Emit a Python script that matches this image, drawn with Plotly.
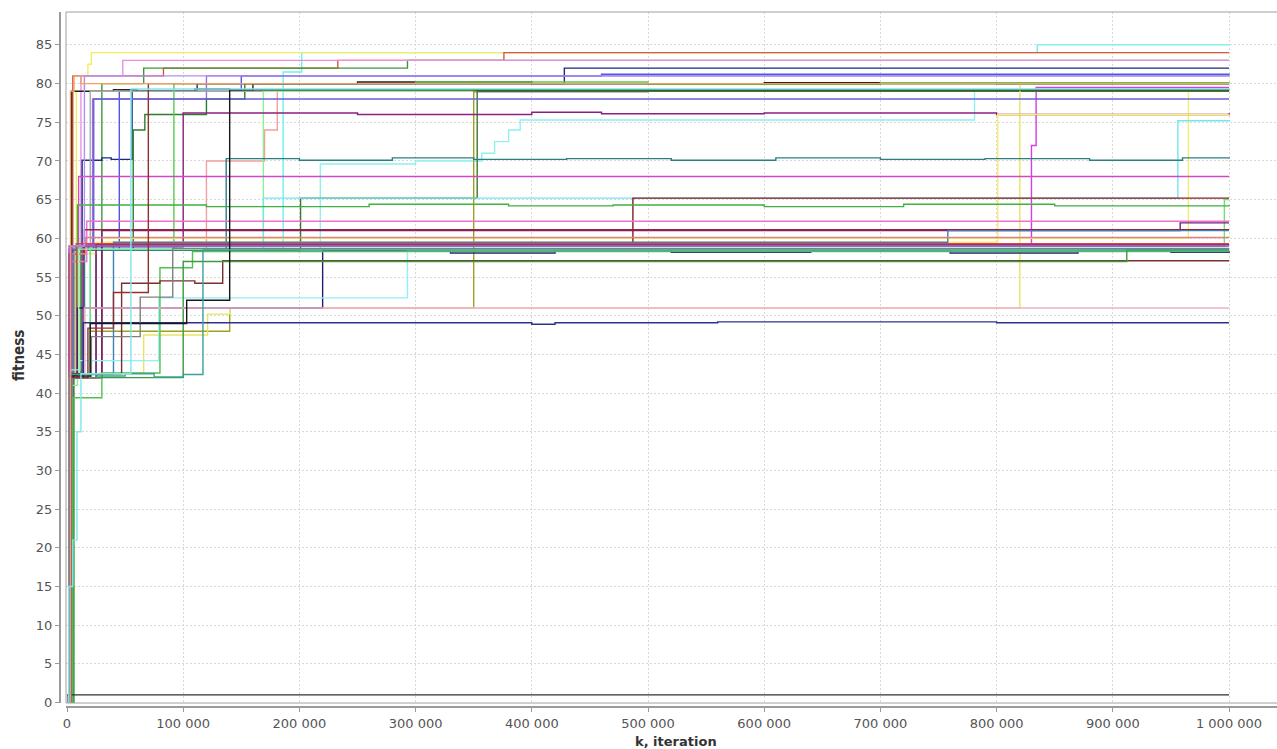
import plotly.graph_objects as go

# iteration breakpoints are in thousands of iterations; fitness values
K_UNIT = 1000

run01 = ([0, 4, 60, 186, 202, 835, 1000], [0, 58.7, 58.7, 81.5, 84, 85, 85])
run02 = ([0, 3, 8, 15, 18, 21, 1000], [0, 58, 79, 81, 82.5, 84, 84])
run03 = ([0, 5, 37, 83, 233, 376, 1000], [1, 81, 81, 82, 83, 84, 84])
run04 = ([0, 6, 30, 66, 293, 1000], [0, 58.5, 80, 82, 83, 83])
run05 = ([0, 2, 12, 48, 1000], [0, 59, 81, 83, 83])
run06 = ([0, 3, 13, 30, 38, 56, 112, 428, 1000], [0, 42.3, 70.1, 70.4, 70.2, 79, 80, 82, 82])
run07 = ([0, 2, 22, 120, 1000], [0, 59, 78, 81, 81])
run08 = ([0, 5, 45, 150, 460, 1000], [0, 58.5, 79, 81, 81.2, 81])
run09 = ([0, 4, 40, 60, 110, 140, 160, 250, 400, 600, 800, 1000], [0, 79, 79.2, 79, 79.3, 79, 80, 80.2, 80, 80.1, 80, 80])
run10 = ([0, 5, 25, 57, 67, 72, 120, 153, 1000], [0, 42.5, 58.5, 74, 76, 76, 78, 80, 80])
run11 = ([0, 3, 10, 92, 300, 500, 700, 1000], [0, 42, 58.5, 80, 80.2, 79.9, 80.1, 80])
run12 = ([0, 3, 20, 200, 350, 500, 650, 800, 1000], [0, 58.8, 79, 79.2, 78.9, 79.1, 79, 79.2, 79])
run13 = ([0, 3, 14, 100, 120, 170, 181, 1000], [0, 42, 58.5, 58.5, 70, 74, 79, 79])
run14 = ([0, 2, 9, 169, 1000], [0, 41, 58.5, 79, 79])
run15 = ([0, 3, 15, 830, 834, 1000], [0, 42, 59.2, 72, 79.5, 79.5])
run16 = ([0, 4, 30, 965, 1000], [0, 42.5, 60, 79, 79])
run17 = ([0, 3, 10, 218, 300, 357, 368, 380, 390, 781, 1000], [0, 42, 58.5, 69.6, 70, 71, 72.5, 74, 75.3, 79, 79])
run18 = ([0, 4, 20, 140, 350, 1000], [0, 42.5, 48, 51, 79, 79])
run19 = ([0, 3, 12, 201, 353, 1000], [0, 42, 58.5, 65.2, 79, 79])
run20 = ([0, 3, 28, 66, 113, 121, 140, 820, 1000], [0, 42, 42.6, 47.5, 47.5, 50.2, 51, 80, 80])
run21 = ([0, 2, 23, 1000], [0, 58.6, 78, 78])
run22 = ([0, 3, 14, 100, 250, 400, 460, 600, 800, 1000], [0, 42.5, 58.9, 76.2, 76, 76.3, 76.1, 76.2, 76, 76.2])
run23 = ([0, 4, 25, 801, 1000], [0, 58, 59.5, 76, 76])
run24 = ([0, 3, 20, 169, 956, 1000], [0, 42, 58.6, 65.2, 75.2, 75.3])
run25 = ([0, 4, 15, 137, 200, 280, 350, 430, 520, 610, 700, 790, 880, 960, 1000], [0, 42.5, 58.5, 70.3, 70.1, 70.4, 70.2, 70.3, 70.1, 70.4, 70.2, 70.3, 70.1, 70.4, 70.3])
run26 = ([0, 2, 10, 1000], [0, 59, 68, 68])
run27 = ([0, 3, 30, 487, 1000], [0, 42, 59.3, 65.2, 65.2])
run28 = ([0, 3, 20, 996, 1000], [0, 42, 59, 65, 65])
run29 = ([0, 3, 9, 120, 260, 380, 470, 600, 720, 850, 1000], [0, 42, 64.3, 64.1, 64.4, 64.2, 64.3, 64.1, 64.4, 64.2, 64.3])
run30 = ([0, 3, 17, 1000], [0, 57, 62.2, 62.2])
run31 = ([0, 3, 30, 958, 1000], [0, 42, 61.0, 62, 62])
run32 = ([0, 2, 15, 1000], [0, 58, 61.1, 61.1])
run33 = ([0, 3, 40, 758, 1000], [0, 42.5, 59.5, 61, 61])
run34 = ([0, 3, 16, 1000], [0, 58, 60.1, 60.1])
run35 = ([0, 2, 25, 1000], [0, 42, 59.2, 59.2])
run36 = ([0, 3, 8, 1000], [0, 42.5, 59.3, 59.3])
run37 = ([0, 4, 1000], [0, 59.0, 59.0])
run38 = ([0, 3, 9, 220, 330, 420, 520, 640, 760, 870, 950, 1000], [0, 42.3, 51, 58.4, 58.1, 58.5, 58.2, 58.4, 58.1, 58.5, 58.2, 58.4])
run39 = ([0, 3, 11, 79, 293, 1000], [0, 43, 44.2, 52.3, 58.5, 58.5])
run40 = ([0, 5, 30, 80, 108, 1000], [0, 39.4, 42.6, 56.2, 58.3, 58.3])
run41 = ([0, 2, 10, 1000], [0, 42, 58.6, 58.6])
run42 = ([0, 3, 47, 80, 110, 134, 1000], [0, 42.5, 54.2, 54.5, 54.2, 57.1, 57.1])
run43 = ([0, 3, 100, 912, 1000], [0, 42, 57, 58.5, 58.5])
run44 = ([0, 3, 15, 1000], [0, 42, 51, 51])
run45 = ([0, 3, 14, 400, 420, 560, 800, 1000], [0, 42, 49.1, 48.9, 49.1, 49.2, 49.1, 49.1])
run46 = ([0, 1, 1000], [0, 1, 1])
run47 = ([0, 3, 21, 63, 91, 1000], [0, 42, 47.3, 52.4, 58.7, 58.7])
run48 = ([0, 3, 18, 40, 70, 1000], [0, 42, 48.4, 53, 80, 80])
run49 = ([0, 3, 20, 103, 140, 1000], [0, 42.2, 49, 52, 79.2, 79.2])
run50 = ([0, 3, 26, 50, 75, 100, 117, 1000], [0, 42.4, 42.2, 42.5, 42.1, 42.4, 58.5, 58.5])
run51 = ([0, 3, 15, 1000], [0, 59, 81, 81])
run52 = ([0, 3, 6, 12, 1000], [0, 79, 81, 80, 80])
run53 = ([0, 1.5, 5, 8.6, 12, 55, 1000], [0, 15, 21, 35, 42.5, 79.3, 79.3])

runs = [run01, run02, run03, run04, run05, run06, run07, run08, run09, run10,
        run11, run12, run13, run14, run15, run16, run17, run18, run19, run20,
        run21, run22, run23, run24, run25, run26, run27, run28, run29, run30,
        run31, run32, run33, run34, run35, run36, run37, run38, run39, run40,
        run41, run42, run43, run44, run45, run46, run47, run48, run49, run50,
        run51, run52, run53]

run_colors = ['#6ef0f0', '#f2ee5c', '#e0533f', '#3a9a3a', '#e890e0', '#1c2a80', '#9a70e0', '#4a5ae8', '#222222', '#2e7d2e',
              '#55cc55', '#a8a8a8', '#f0a0a0', '#90ee90', '#d040e0', '#f0f070', '#90f0f0', '#a0a020', '#3a7a30', '#e8e460',
              '#6a60d8', '#8a2080', '#f8ec70', '#70e8f0', '#2a8080', '#d048c8', '#802020', '#70e070', '#40b040', '#f070d0',
              '#702080', '#a02040', '#4080b0', '#e08080', '#901080', '#e04040', '#8050d0', '#202070', '#90f0f8', '#50c050',
              '#a0f0a0', '#7a3030', '#3c9c3c', '#f0b0d0', '#303090', '#303030', '#808080', '#903030', '#181818', '#3aa0a0',
              '#b090f0', '#f0a060', '#80e8e8']

x_tick_vals = [0, 100000, 200000, 300000, 400000, 500000, 600000, 700000, 800000, 900000, 1000000]
x_tick_text = ['0', '100 000', '200 000', '300 000', '400 000', '500 000', '600 000', '700 000', '800 000', '900 000', '1 000 000']
y_tick_vals = [0, 5, 10, 15, 20, 25, 30, 35, 40, 45, 50, 55, 60, 65, 70, 75, 80, 85]
x_title = 'k, iteration'
y_title = 'fitness'

fig = go.Figure()
for (ks, fits), col in zip(runs, run_colors):
    fig.add_trace(go.Scatter(
        x=[k * K_UNIT for k in ks], y=fits, mode='lines',
        line=dict(color=col, width=1.4, shape='hv'),
        showlegend=False, hoverinfo='skip'))

W, H = 1277, 749
ml, mb, mt = 60, 42, 12
plot_w = W - ml
plot_h = H - mt - mb

fig.update_layout(
    width=W, height=H,
    margin=dict(l=ml, r=0, t=mt, b=mb, pad=0, autoexpand=False),
    paper_bgcolor='white', plot_bgcolor='white',
    showlegend=False,
    font=dict(family='DejaVu Sans, Verdana, sans-serif', size=13, color='#444444'),
    xaxis=dict(
        domain=[6 / plot_w, 1],
        range=[-860, 1041300],
        tickvals=x_tick_vals, ticktext=x_tick_text,
        showgrid=True, gridcolor='#d8d8d8', griddash='2px,2px', gridwidth=1,
        zeroline=False, automargin=False,
        showline=True, linecolor='#9a9a9a', linewidth=2,
        ticks='outside', ticklen=4, tickcolor='#9a9a9a',
        anchor='free', position=0,
        tickfont=dict(size=13, color='#555555'),
    ),
    yaxis=dict(
        domain=[4 / plot_h, 1],
        range=[-0.05, 89.25],
        tickvals=y_tick_vals,
        showgrid=True, gridcolor='#d8d8d8', griddash='2px,2px', gridwidth=1,
        zeroline=False, automargin=False,
        showline=True, linecolor='#9a9a9a', linewidth=2,
        ticks='outside', ticklen=4, tickcolor='#9a9a9a',
        anchor='free', position=0,
        tickfont=dict(size=13, color='#555555'),
    ),
    annotations=[
        dict(text='<b>' + x_title + '</b>', xref='paper', yref='paper',
             x=(676 - ml) / plot_w, y=-(741 - (H - mb)) / plot_h,
             xanchor='center', yanchor='middle', showarrow=False,
             font=dict(family='DejaVu Sans, Verdana, sans-serif', size=13, color='#333333')),
        dict(text='<b>' + y_title + '</b>', xref='paper', yref='paper',
             x=-(ml - 19) / plot_w, y=(H - mb - 356) / plot_h,
             xanchor='center', yanchor='middle', showarrow=False, textangle=-90,
             font=dict(family='DejaVu Sans Condensed, Liberation Sans Narrow, Liberation Sans, sans-serif', size=15, color='#333333')),
    ],
    shapes=[dict(type='rect', xref='x domain', yref='y domain', x0=0, x1=1.01, y0=0, y1=1,
                 line=dict(color='#a0a0a0', width=1), fillcolor='rgba(0,0,0,0)', layer='above')],
)

fig.write_html('out.html', config={'displayModeBar': False},
               post_script="document.body.style.margin='0';document.body.style.overflow='hidden';")
